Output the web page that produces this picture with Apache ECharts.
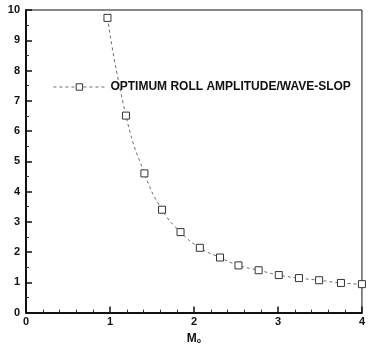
<!DOCTYPE html>
<html><head><meta charset="utf-8">
<script src="https://cdn.jsdelivr.net/npm/echarts@6/dist/echarts.min.js"></script>
<style>html,body{margin:0;padding:0;background:#fff}#c{width:368px;height:350px}</style>
</head><body><div id="c"></div>
<script>
const seriesName = 'OPTIMUM ROLL AMPLITUDE/WAVE-SLOP';
const xValues = [0.97, 1.19, 1.41, 1.62, 1.84, 2.07, 2.31, 2.53, 2.77, 3.01, 3.25, 3.49, 3.75, 4.0];
const yValues = [9.74, 6.51, 4.6, 3.4, 2.66, 2.14, 1.82, 1.56, 1.40, 1.24, 1.14, 1.07, 0.98, 0.94];
const xTicks = [0, 1, 2, 3, 4];
const yTicks = [0, 1, 2, 3, 4, 5, 6, 7, 8, 9, 10];

const chart = echarts.init(document.getElementById('c'), null, {renderer: 'canvas'});
const font = 'Liberation Sans, Arial, sans-serif';
chart.setOption({
  animation: false,
  backgroundColor: '#fff',
  grid: {left: 26, right: 6, top: 10, bottom: 33, show: true, borderColor: '#111', borderWidth: 1},
  legend: {
    left: 48, top: 76, itemWidth: 52, itemHeight: 8, itemGap: 8,
    lineStyle: {width: 0.8, color: '#444'},
    itemStyle: {color: '#fff', borderColor: '#333', borderWidth: 1},
    textStyle: {fontFamily: font, fontWeight: 'bold', fontSize: 12, color: '#111'},
    data: [seriesName]
  },
  xAxis: {
    type: 'value', min: 0, max: 4, interval: 1,
    name: 'M{s|o}', nameLocation: 'middle', nameGap: 19,
    nameTextStyle: {fontFamily: font, fontWeight: 'bold', fontSize: 12, color: '#111',
      rich: {s: {fontSize: 7, fontWeight: 'bold', verticalAlign: 'bottom', padding: [6, 0, 0, 0], color: '#111'}}},
    axisLine: {lineStyle: {color: '#111', width: 2}},
    axisTick: {inside: true, length: 6, lineStyle: {color: '#111', width: 1.5}},
    minorTick: {show: true, splitNumber: 5, length: 3, lineStyle: {color: '#333'}},
    splitLine: {show: false},
    axisLabel: {fontFamily: font, fontWeight: 'bold', fontSize: 11, color: '#111', margin: 4,
      formatter: v => xTicks.includes(v) ? String(v) : ''}
  },
  yAxis: {
    type: 'value', min: 0, max: 10, interval: 1,
    axisLine: {lineStyle: {color: '#111', width: 2}},
    axisTick: {inside: true, length: 6, lineStyle: {color: '#111', width: 1.5}},
    minorTick: {show: true, splitNumber: 2, length: 3, lineStyle: {color: '#333'}},
    splitLine: {show: false},
    axisLabel: {fontFamily: font, fontWeight: 'bold', fontSize: 11, color: '#111', margin: 6,
      formatter: v => yTicks.includes(v) ? String(v) : ''}
  },
  series: [{
    name: seriesName, type: 'line', smooth: true,
    data: xValues.map((x, i) => [x, yValues[i]]),
    symbol: 'rect', symbolSize: 7,
    itemStyle: {color: '#fff', borderColor: '#333', borderWidth: 1},
    lineStyle: {color: '#444', width: 0.8, type: [3, 3]}
  }]
});
</script></body></html>
